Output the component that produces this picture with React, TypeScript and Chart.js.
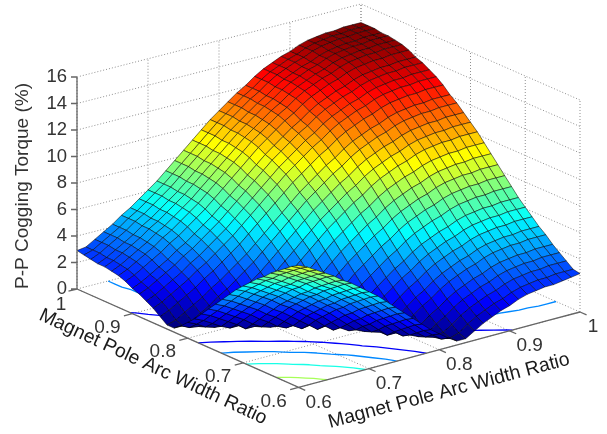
import React, { useEffect, useRef } from "react";
import { Chart, registerables } from "chart.js";

Chart.register(...registerables);

const ratioTicks = [0.6, 0.7, 0.8, 0.9, 1];
const ratioTickLabels = ["0.6", "0.7", "0.8", "0.9", "1"];
const torqueTicks = [0, 2, 4, 6, 8, 10, 12, 14, 16];
const contourLevels = [2, 4, 6, 8, 10, 12, 14];
const ratioTitle = "Magnet Pole Arc Width Ratio";
const torqueTitle = "P-P Cogging Torque (%)";

// P-P cogging torque (%) read from the surface; rows and columns run 0.6 to 1 in 33 samples.
const surfaceZ = [
  [9.2,8.9,8.5,8.1,7.7,7.2,6.8,6.3,5.8,5.3,4.7,4.1,3.5,2.9,2.3,1.7,1.2,0.7,0.3,0.3,0.7,1.1,1.4,1.7,1.9,2.2,2.4,2.5,2.6,2.6,2.7,2.8,2.9],
  [8.9,8.6,8.2,7.8,7.4,6.9,6.5,6.0,5.5,5.0,4.4,3.8,3.2,2.6,2.0,1.4,0.9,0.4,0.3,0.5,1.0,1.4,1.7,2.0,2.2,2.5,2.7,2.8,2.9,2.9,3.0,3.0,3.0],
  [8.5,8.2,7.8,7.4,7.0,6.5,6.1,5.6,5.1,4.6,4.0,3.4,2.8,2.2,1.6,1.0,0.5,0.3,0.5,0.9,1.4,1.8,2.1,2.4,2.6,2.9,3.1,3.2,3.3,3.3,3.4,3.4,3.4],
  [8.1,7.8,7.4,7.0,6.6,6.1,5.7,5.2,4.7,4.2,3.6,3.0,2.4,1.8,1.2,0.6,0.3,0.4,0.9,1.3,1.8,2.2,2.5,2.8,3.0,3.3,3.5,3.6,3.7,3.7,3.8,3.8,3.8],
  [7.7,7.4,7.0,6.6,6.2,5.7,5.3,4.8,4.3,3.8,3.2,2.6,2.0,1.4,0.8,0.3,0.3,0.8,1.3,1.7,2.2,2.6,2.9,3.2,3.4,3.7,3.9,4.0,4.1,4.1,4.2,4.2,4.2],
  [7.2,6.9,6.5,6.1,5.7,5.2,4.8,4.3,3.8,3.3,2.7,2.1,1.5,0.9,0.3,0.3,0.8,1.3,1.8,2.2,2.7,3.1,3.4,3.7,3.9,4.2,4.4,4.5,4.6,4.6,4.7,4.7,4.7],
  [6.8,6.5,6.1,5.7,5.3,4.8,4.4,3.9,3.4,2.9,2.3,1.7,1.1,0.5,0.3,0.7,1.2,1.7,2.2,2.6,3.1,3.5,3.8,4.1,4.3,4.6,4.8,4.9,5.0,5.0,5.1,5.1,5.1],
  [6.3,6.0,5.6,5.2,4.8,4.3,3.9,3.4,2.9,2.4,1.8,1.2,0.6,0.3,0.6,1.2,1.7,2.2,2.7,3.1,3.6,4.0,4.3,4.6,4.8,5.1,5.3,5.4,5.5,5.5,5.6,5.6,5.6],
  [5.8,5.5,5.1,4.7,4.3,3.8,3.4,2.9,2.4,1.9,1.3,0.7,0.3,0.5,1.1,1.7,2.2,2.7,3.2,3.6,4.1,4.5,4.8,5.1,5.3,5.6,5.8,5.9,6.0,6.0,6.1,6.1,6.1],
  [5.3,5.0,4.6,4.2,3.8,3.3,2.9,2.4,1.9,1.4,0.8,0.3,0.4,1.0,1.6,2.2,2.7,3.2,3.7,4.1,4.6,5.0,5.3,5.6,5.8,6.1,6.3,6.4,6.5,6.5,6.6,6.6,6.6],
  [4.7,4.4,4.0,3.6,3.2,2.7,2.3,1.8,1.3,0.8,0.3,0.4,1.0,1.6,2.2,2.8,3.3,3.8,4.3,4.7,5.2,5.6,5.9,6.2,6.4,6.7,6.9,7.0,7.1,7.1,7.2,7.2,7.2],
  [4.1,3.8,3.4,3.0,2.6,2.1,1.7,1.2,0.7,0.3,0.4,1.0,1.6,2.2,2.8,3.4,3.9,4.4,4.9,5.3,5.8,6.2,6.5,6.8,7.0,7.3,7.5,7.6,7.7,7.7,7.8,7.8,7.8],
  [3.5,3.2,2.8,2.4,2.0,1.5,1.1,0.6,0.3,0.4,1.0,1.6,2.2,2.8,3.4,4.0,4.5,5.0,5.5,5.9,6.4,6.8,7.1,7.4,7.6,7.9,8.1,8.2,8.3,8.3,8.4,8.4,8.4],
  [2.9,2.6,2.2,1.8,1.4,0.9,0.5,0.3,0.5,1.0,1.6,2.2,2.8,3.4,4.0,4.6,5.1,5.6,6.1,6.5,7.0,7.4,7.7,8.0,8.2,8.5,8.7,8.8,8.9,8.9,9.0,9.0,9.0],
  [2.3,2.0,1.6,1.2,0.8,0.3,0.3,0.6,1.1,1.6,2.2,2.8,3.4,4.0,4.6,5.2,5.7,6.2,6.7,7.1,7.6,8.0,8.3,8.6,8.8,9.1,9.3,9.4,9.5,9.5,9.6,9.6,9.6],
  [1.7,1.4,1.0,0.6,0.3,0.3,0.7,1.2,1.7,2.2,2.8,3.4,4.0,4.6,5.2,5.8,6.3,6.8,7.3,7.7,8.2,8.6,8.9,9.2,9.4,9.7,9.9,10.0,10.1,10.1,10.2,10.2,10.2],
  [1.2,0.9,0.5,0.3,0.3,0.8,1.2,1.7,2.2,2.7,3.3,3.9,4.5,5.1,5.7,6.3,6.8,7.3,7.8,8.2,8.7,9.1,9.4,9.7,9.9,10.2,10.4,10.5,10.6,10.6,10.7,10.7,10.7],
  [0.7,0.4,0.3,0.4,0.8,1.3,1.7,2.2,2.7,3.2,3.8,4.4,5.0,5.6,6.2,6.8,7.3,7.8,8.3,8.7,9.2,9.6,9.9,10.2,10.4,10.7,10.9,11.0,11.1,11.1,11.2,11.2,11.2],
  [0.3,0.3,0.5,0.9,1.3,1.8,2.2,2.7,3.2,3.7,4.3,4.9,5.5,6.1,6.7,7.3,7.8,8.3,8.8,9.2,9.7,10.1,10.4,10.7,10.9,11.2,11.4,11.5,11.6,11.6,11.7,11.7,11.7],
  [0.3,0.5,0.9,1.3,1.7,2.2,2.6,3.1,3.6,4.1,4.7,5.3,5.9,6.5,7.1,7.7,8.2,8.7,9.2,9.6,10.1,10.5,10.8,11.1,11.3,11.6,11.8,11.9,12.0,12.0,12.1,12.1,12.1],
  [0.7,1.0,1.4,1.8,2.2,2.7,3.1,3.6,4.1,4.6,5.2,5.8,6.4,7.0,7.6,8.2,8.7,9.2,9.7,10.1,10.6,11.0,11.3,11.6,11.8,12.1,12.3,12.4,12.5,12.5,12.6,12.6,12.6],
  [1.1,1.4,1.8,2.2,2.6,3.1,3.5,4.0,4.5,5.0,5.6,6.2,6.8,7.4,8.0,8.6,9.1,9.6,10.1,10.5,11.0,11.4,11.7,12.0,12.2,12.5,12.7,12.8,12.9,12.9,13.0,13.0,13.0],
  [1.4,1.7,2.1,2.5,2.9,3.4,3.8,4.3,4.8,5.3,5.9,6.5,7.1,7.7,8.3,8.9,9.4,9.9,10.4,10.8,11.3,11.7,12.0,12.3,12.5,12.8,13.0,13.1,13.2,13.2,13.3,13.3,13.3],
  [1.7,2.0,2.4,2.8,3.2,3.7,4.1,4.6,5.1,5.6,6.2,6.8,7.4,8.0,8.6,9.2,9.7,10.2,10.7,11.1,11.6,12.0,12.3,12.6,12.8,13.1,13.3,13.4,13.5,13.5,13.6,13.6,13.6],
  [1.9,2.2,2.6,3.0,3.4,3.9,4.3,4.8,5.3,5.8,6.4,7.0,7.6,8.2,8.8,9.4,9.9,10.4,10.9,11.3,11.8,12.2,12.5,12.8,13.0,13.3,13.5,13.6,13.7,13.7,13.8,13.8,13.8],
  [2.2,2.5,2.9,3.3,3.7,4.2,4.6,5.1,5.6,6.1,6.7,7.3,7.9,8.5,9.1,9.7,10.2,10.7,11.2,11.6,12.1,12.5,12.8,13.1,13.3,13.6,13.8,13.9,14.0,14.0,14.1,14.1,14.1],
  [2.4,2.7,3.1,3.5,3.9,4.4,4.8,5.3,5.8,6.3,6.9,7.5,8.1,8.7,9.3,9.9,10.4,10.9,11.4,11.8,12.3,12.7,13.0,13.3,13.5,13.8,14.0,14.1,14.2,14.2,14.3,14.3,14.3],
  [2.5,2.8,3.2,3.6,4.0,4.5,4.9,5.4,5.9,6.4,7.0,7.6,8.2,8.8,9.4,10.0,10.5,11.0,11.5,11.9,12.4,12.8,13.1,13.4,13.6,13.9,14.1,14.2,14.3,14.3,14.4,14.4,14.4],
  [2.6,2.9,3.3,3.7,4.1,4.6,5.0,5.5,6.0,6.5,7.1,7.7,8.3,8.9,9.5,10.1,10.6,11.1,11.6,12.0,12.5,12.9,13.2,13.5,13.7,14.0,14.2,14.3,14.4,14.4,14.5,14.5,14.5],
  [2.6,2.9,3.3,3.7,4.1,4.6,5.0,5.5,6.0,6.5,7.1,7.7,8.3,8.9,9.5,10.1,10.6,11.1,11.6,12.0,12.5,12.9,13.2,13.5,13.7,14.0,14.2,14.3,14.4,14.4,14.5,14.5,14.5],
  [2.7,3.0,3.4,3.8,4.2,4.7,5.1,5.6,6.1,6.6,7.2,7.8,8.4,9.0,9.6,10.2,10.7,11.2,11.7,12.1,12.6,13.0,13.3,13.6,13.8,14.1,14.3,14.4,14.5,14.5,14.6,14.6,14.6],
  [2.8,3.0,3.4,3.8,4.2,4.7,5.1,5.6,6.1,6.6,7.2,7.8,8.4,9.0,9.6,10.2,10.7,11.2,11.7,12.1,12.6,13.0,13.3,13.6,13.8,14.1,14.3,14.4,14.5,14.5,14.6,14.6,14.6],
  [2.9,3.0,3.4,3.8,4.2,4.7,5.1,5.6,6.1,6.6,7.2,7.8,8.4,9.0,9.6,10.2,10.7,11.2,11.7,12.1,12.6,13.0,13.3,13.6,13.8,14.1,14.3,14.4,14.5,14.5,14.6,14.6,14.6],
];

const W = 607;
const H = 434;
const FONT = '"Liberation Sans", Arial, sans-serif';
const Z_BASE_PX = 289;
const PX_PER_Z = 13.25;
const Z_TICK_LEN = 6;
const corners = { front: [298.6, 387.4], right: [580, 312], left: [77, 289], back: [361, 216] };

type P = { x: number; y: number };
const GAP: P = { x: NaN, y: NaN };

// a: right-running ratio, b: left-running ratio, z: torque.  Returns x in pixels, y in torque units.
function project(a: number, b: number, z: number): P {
  const u = (a - 0.6) / 0.4;
  const v = (b - 0.6) / 0.4;
  const { front: f, right: r, left: l, back: k } = corners;
  const sx = f[0] * (1 - u) * (1 - v) + r[0] * u * (1 - v) + l[0] * (1 - u) * v + k[0] * u * v;
  const sy = f[1] * (1 - u) * (1 - v) + r[1] * u * (1 - v) + l[1] * (1 - u) * v + k[1] * u * v;
  return { x: sx, y: (Z_BASE_PX - sy) / PX_PER_Z + z };
}
const pxOf = (p: P) => ({ x: p.x, y: Z_BASE_PX - p.y * PX_PER_Z });

function jet(t: number): string {
  const c = Math.min(1, Math.max(0, t));
  const band = (o: number) => Math.round(255 * Math.min(1, Math.max(0, 1.5 - Math.abs(4 * c - o))));
  return `rgb(${band(3)},${band(2)},${band(1)})`;
}

function contourPoints(level: number): P[] {
  const n = surfaceZ.length;
  const coord = (i: number) => 0.6 + (0.4 * i) / (n - 1);
  const pts: P[] = [];
  for (let i = 0; i < n - 1; i++) {
    for (let j = 0; j < n - 1; j++) {
      const cell: [number, number, number][] = [
        [i, j, surfaceZ[i][j]],
        [i + 1, j, surfaceZ[i + 1][j]],
        [i + 1, j + 1, surfaceZ[i + 1][j + 1]],
        [i, j + 1, surfaceZ[i][j + 1]],
      ];
      const hits: P[] = [];
      for (let e = 0; e < 4; e++) {
        const p = cell[e];
        const q = cell[(e + 1) % 4];
        if (p[2] < level !== q[2] < level) {
          const t = (level - p[2]) / (q[2] - p[2]);
          hits.push(project(coord(p[0] + t * (q[0] - p[0])), coord(p[1] + t * (q[1] - p[1])), 0));
        }
      }
      if (hits.length >= 2) pts.push(hits[0], hits[1], GAP);
    }
  }
  return pts;
}

function buildDatasets() {
  const n = surfaceZ.length;
  const coord = (i: number) => 0.6 + (0.4 * i) / (n - 1);
  const zMax = Math.max(...surfaceZ.flat());
  const zMin = Math.min(...surfaceZ.flat());
  const base = { showLine: true, pointRadius: 0, pointHoverRadius: 0, tension: 0 };
  const sets: any[] = [];

  // axis lines and tick marks
  const lo = ratioTicks[0];
  const hi = ratioTicks[ratioTicks.length - 1];
  const axis: P[] = [project(lo, hi, 0), project(lo, lo, 0), project(hi, lo, 0), GAP, project(lo, hi, 0), project(lo, hi, torqueTicks[torqueTicks.length - 1]), GAP];
  for (const t of ratioTicks) {
    axis.push(project(lo, t, 0), project(lo - 0.012, t, 0), GAP);
    axis.push(project(t, lo, 0), project(t, lo - 0.012, 0), GAP);
  }
  for (const z of torqueTicks) {
    const p = project(lo, hi, z);
    axis.push(p, { x: p.x - Z_TICK_LEN, y: p.y }, GAP);
  }
  sets.push({ ...base, data: axis, borderColor: "#666666", borderWidth: 1.3, borderDash: [100, 0], fill: false });

  // surface: front cells come first and are painted last
  for (let i = 0; i < n - 1; i++) {
    for (let j = 0; j < n - 1; j++) {
      const mean = (surfaceZ[i][j] + surfaceZ[i + 1][j] + surfaceZ[i][j + 1] + surfaceZ[i + 1][j + 1]) / 4;
      sets.push({
        ...base,
        data: [
          project(coord(i), coord(j), surfaceZ[i][j]),
          project(coord(i + 1), coord(j), surfaceZ[i + 1][j]),
          project(coord(i + 1), coord(j + 1), surfaceZ[i + 1][j + 1]),
          project(coord(i), coord(j + 1), surfaceZ[i][j + 1]),
          project(coord(i), coord(j), surfaceZ[i][j]),
        ],
        fill: "shape",
        backgroundColor: jet((mean - zMin) / (zMax - zMin)),
        borderColor: "rgba(0,0,0,0.68)",
        borderWidth: 0.75,
        borderDash: [100, 0],
      });
    }
  }

  // contours on the floor
  for (const level of contourLevels) {
    sets.push({ ...base, data: contourPoints(level), borderColor: jet((level - zMin) / (zMax - zMin)), borderWidth: 1.3, borderDash: [100, 0], fill: false });
  }

  // dotted grid on the walls and floor
  const grid: P[] = [];
  const top = torqueTicks[torqueTicks.length - 1];
  for (const z of torqueTicks) {
    grid.push(project(lo, hi, z), project(hi, hi, z), project(hi, lo, z), GAP);
  }
  for (const t of ratioTicks) {
    grid.push(project(t, hi, 0), project(t, hi, top), GAP);
    grid.push(project(hi, t, 0), project(hi, t, top), GAP);
    if (t !== hi) {
      grid.push(project(lo, t, 0), project(hi, t, 0), GAP);
      grid.push(project(t, lo, 0), project(t, hi, 0), GAP);
    }
  }
  sets.push({ ...base, data: grid, borderColor: "#8f8f8f", borderWidth: 1, borderDash: [1, 2], fill: false });
  return sets;
}

const labelsPlugin = {
  id: "labels3d",
  afterDatasetsDraw(chart: any) {
    const ctx = chart.ctx;
    const lo = ratioTicks[0];
    const hi = ratioTicks[ratioTicks.length - 1];
    ctx.save();
    ctx.fillStyle = "#333333";
    ctx.textAlign = "center";
    ctx.textBaseline = "middle";
    ctx.font = `19px ${FONT}`;
    ratioTicks.forEach((t, i) => {
      const l = pxOf(project(lo, t, 0));
      const r = pxOf(project(t, lo, 0));
      const last = t === hi;
      ctx.fillText(ratioTickLabels[i], l.x + (last ? -16 : -25), l.y + (last ? 16 : 14));
      ctx.fillText(ratioTickLabels[i], r.x + (last ? 13 : 20), r.y + 15);
    });
    ctx.save();
    ctx.translate(23, 186);
    ctx.rotate(-Math.PI / 2);
    ctx.fillText(torqueTitle, 0, 0);
    ctx.restore();
    ctx.fillStyle = "#1a1a1a";
    ctx.font = `19.4px ${FONT}`;
    ctx.save();
    ctx.translate(153, 367);
    ctx.rotate((25 * Math.PI) / 180);
    ctx.fillText(ratioTitle, 0, 0);
    ctx.restore();
    ctx.save();
    ctx.translate(449, 391);
    ctx.rotate((-14.8 * Math.PI) / 180);
    ctx.fillText(ratioTitle, 0, 0);
    ctx.restore();
    ctx.restore();
  },
};

export default function App() {
  const ref = useRef<HTMLCanvasElement>(null);
  useEffect(() => {
    const chart = new Chart(ref.current as HTMLCanvasElement, {
      type: "scatter",
      data: { datasets: buildDatasets() },
      plugins: [labelsPlugin],
      options: {
        responsive: false,
        animation: false,
        events: [],
        layout: { padding: 0 },
        plugins: { legend: { display: false }, tooltip: { enabled: false } },
        scales: {
          x: { type: "linear", min: 0, max: W, display: false },
          y: {
            type: "linear",
            position: { x: corners.left[0] - 10 },
            min: (Z_BASE_PX - H) / PX_PER_Z,
            max: Z_BASE_PX / PX_PER_Z,
            afterBuildTicks: (axis: any) => {
              axis.ticks = torqueTicks.map((value) => ({ value }));
            },
            afterFit: (axis: any) => {
              axis.paddingTop = 0;
              axis.paddingBottom = 0;
              axis.paddingLeft = 0;
              axis.paddingRight = 0;
            },
            border: { display: false },
            grid: { drawOnChartArea: false, drawTicks: false },
            ticks: { color: "#333333", padding: 3, font: { size: 18.5, family: FONT }, autoSkip: false, maxRotation: 0 },
          },
        },
      } as any,
    });
    return () => chart.destroy();
  }, []);
  return <canvas ref={ref} width={W} height={H} style={{ position: "fixed", left: 0, top: 0, width: W, height: H, filter: "blur(0.45px)" }} />;
}
